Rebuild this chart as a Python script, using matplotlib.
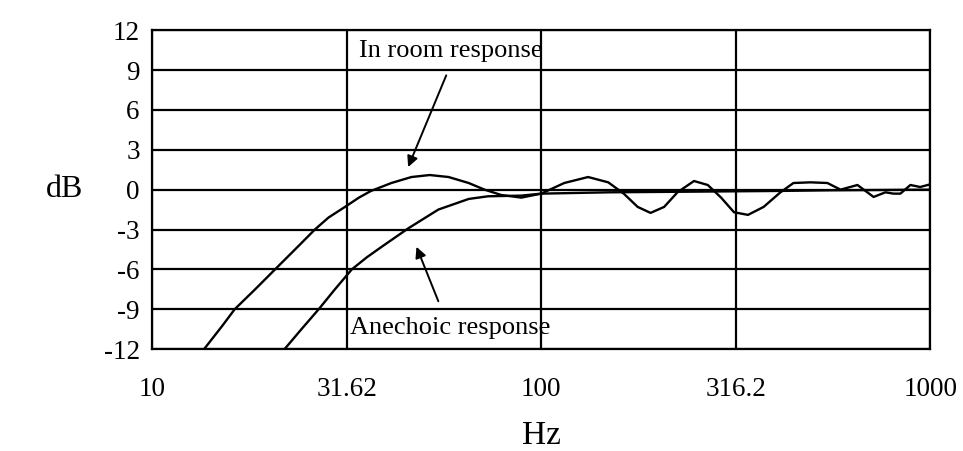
import matplotlib
matplotlib.use("Agg")
import matplotlib.pyplot as plt

# values (frequency in Hz, level in dB)
room_hz = [13.6, 15.1, 16.3, 18.4, 20.7, 23.3, 26.2, 28.4, 31.3, 34.0, 36.5, 41.2,
           46.4, 51.7, 57.8, 65.1, 71.5, 78.9, 88.9, 100, 114.6, 132, 148.7, 163,
           177, 191, 207, 224, 247, 268, 290, 313, 340, 373, 412, 445, 492, 544,
           588, 650, 689, 715, 767, 804, 838, 889, 942, 1000]
room_db = [-12.0, -10.3, -9.0, -7.5, -6.0, -4.5, -3.0, -2.1, -1.3, -0.6, -0.1, 0.5,
           0.95, 1.1, 0.95, 0.5, 0.0, -0.4, -0.6, -0.3, 0.5, 0.95, 0.55, -0.3,
           -1.3, -1.75, -1.3, -0.2, 0.65, 0.35, -0.6, -1.7, -1.9, -1.3, -0.2, 0.5,
           0.55, 0.5, 0.0, 0.35, -0.2, -0.55, -0.2, -0.3, -0.3, 0.35, 0.2, 0.4]

anech_hz = [21.9, 24.2, 26.8, 29.5, 32.6, 35.6, 38.9, 45.6, 54.4, 65.1, 73.0, 88.9,
            100, 150, 250, 400, 550, 1000]
anech_db = [-12.0, -10.5, -9.0, -7.5, -6.0, -5.1, -4.3, -2.9, -1.5, -0.7, -0.5,
            -0.45, -0.3, -0.2, -0.15, -0.1, -0.05, 0.0]

x_ticks = [10, 31.62, 100, 316.2, 1000]
x_labels = ["10", "31.62", "100", "316.2", "1000"]
y_ticks = list(range(-12, 13, 3))

plt.rcParams['font.family'] = ['Liberation Serif', 'DejaVu Serif']

fig = plt.figure(figsize=(9.63, 4.51), dpi=100)
ax = fig.add_axes([0.158, 0.226, 0.808, 0.707])

ax.plot(room_hz, room_db, color='black', lw=1.7, solid_joinstyle='round')
ax.plot(anech_hz, anech_db, color='black', lw=1.7, solid_joinstyle='round')

ax.set_xscale('log')
ax.set_xlim(10, 1000)
ax.set_ylim(-12, 12)
ax.set_xticks(x_ticks)
ax.set_xticklabels(x_labels)
ax.minorticks_off()
ax.set_yticks(y_ticks)
ax.set_yticklabels([str(v) for v in y_ticks])
ax.tick_params(length=0, labelsize=19.5)
ax.tick_params(axis='x', pad=20)
ax.tick_params(axis='y', pad=9)
ax.grid(True, color='black', lw=1.6)
for s in ax.spines.values():
    s.set_linewidth(1.6)

fig.text(0.562, 0.033, "Hz", fontsize=24, ha='center', va='center')
ax.set_ylabel("dB", fontsize=23, rotation=0, labelpad=28, va='center')

# labels and their arrows
ax.text(58.5, 10.4, "In room response", ha='center', va='center', fontsize=19)
ax.text(58.5, -10.4, "Anechoic response", ha='center', va='center', fontsize=19)
arrow = dict(arrowstyle='-|>', color='black', lw=1.4, shrinkA=0, shrinkB=0,
             mutation_scale=16)
ax.annotate("", xy=(45.5, 1.7), xytext=(57.0, 8.6), arrowprops=arrow)
ax.annotate("", xy=(47.8, -4.3), xytext=(54.4, -8.4), arrowprops=arrow)

fig.savefig("out.png", dpi=100)
